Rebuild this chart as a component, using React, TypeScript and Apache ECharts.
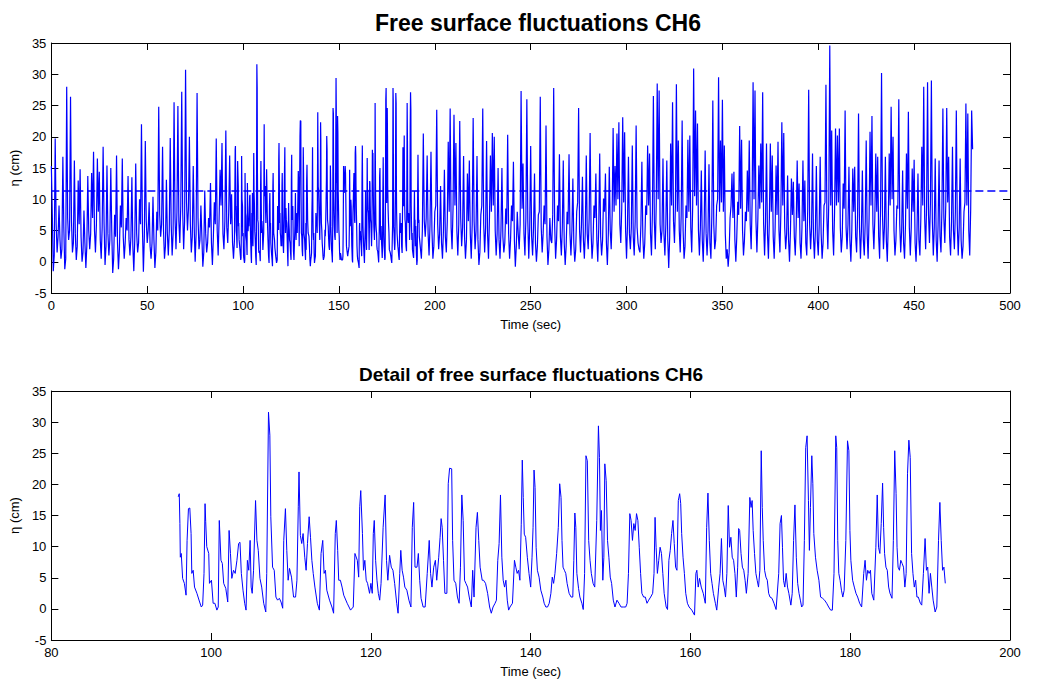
import React, { useEffect, useRef } from "react";
import * as echarts from "echarts";

// ---------- data ----------
// Full record, sampled every 0.5 s from 0 s to 95.5 s, eta in cm
const topStartA = 0;
const topStepSec = 0.5;
const topEtaA = [
  15.3, 7.5, -1.5, 1.0, 19.7, 6.0, 1.5, 4.0, 9.0, 3.5,
  0.5, 2.0, 16.8, 5.5, -1.2, 0.5, 28.0, 7.0, 3.5, 5.0,
  26.4, 6.5, 1.5, 3.0, 16.2, 4.5, 0.3, 2.5, 13.0, 6.0,
  14.8, 4.0, 0.0, 1.5, 8.2, 3.0, -1.0, 2.5, 13.7, 5.0,
  2.0, 4.5, 14.2, 7.0, 17.6, 5.0, 1.5, 6.0, 16.5, 8.0,
  14.4, 3.5, 0.5, 5.5, 18.4, 6.0, -0.5, 2.5, 15.4, 4.5,
  1.0, 3.5, 15.0, 5.0, -1.8, 0.5, 7.5, 4.0, 17.0, 3.0,
  -1.2, 2.0, 9.0, 5.5, 16.5, 4.0, 0.5, 3.0, 7.0, 5.0,
  13.7, 3.5, 1.0, 4.0, 13.5, 2.5, -1.5, 3.5, 15.7, 4.5,
  1.5, 3.0, 10.0, 6.0, 22.0, 5.5, -1.6, 4.0, 19.3, 6.5,
  3.0, 5.0, 9.5, 2.5, 0.5, 3.0, 10.4, 3.5, -1.0, 1.5,
  8.0, 5.0, 24.8, 7.5, 4.0, 6.0, 18.4, 5.0, 0.5, 2.5,
  13.1, 4.5, 1.0, 5.0, 19.8, 6.0, 1.0, 4.5, 25.5, 7.0,
  2.0, 8.0, 24.9, 6.5, 3.0, 9.0, 27.2, 8.0, 2.0, 6.5,
  30.7, 9.5, 5.0, 8.5, 20.0, 6.0, 1.5, 4.0, 15.3, 5.5,
  0.0, 4.5, 27.0, 7.0, 2.0, 3.5, 9.0, 4.0, -0.8, 1.5,
  11.4, 4.5, 1.5, 3.0, 7.0, 5.5, 12.6, 3.0, -0.5, 4.0,
  9.5, 6.0, 19.7, 5.0, 1.0, 7.0, 14.7, 9.0, 19.0, 4.5,
  2.0, 6.5, 21.0, 5.5, 3.0, 8.0, 17.0, 6.0, 10.8, 3.0,
  0.5, 3.5,
];

// Full record, sampled every 0.5 s from 193 s to 480.5 s
const topStartB = 193;
const topEtaB = [
  0.5, 5.0, 20.5, 6.5, 4.0, 7.0, 17.0, 4.5, 1.0, 6.0, 17.6, 5.0, 0.5, 2.5,
  8.0, 9.0, 24.3, 6.0, 2.0, 4.5, 12.1, 3.0, 0.5, 5.0, 14.7, 4.0, 1.5, 6.5, 19.2, 8.0, 24.5, 5.5, 2.0, 8.5,
  23.5, 9.0, 19.0, 5.0, 1.0, 6.0, 22.5, 7.0, 2.5, 5.5, 16.9, 4.0, 0.5, 3.5, 14.1, 6.5, 16.2, 4.5, 0.5, 6.0,
  23.0, 6.5, 2.0, 5.0, 16.9, 3.5, -0.5, 1.5, 7.5, 9.0, 24.5, 6.0, 1.5, 5.5, 19.3, 4.5, 0.5, 7.0, 17.0, 8.0,
  20.6, 9.0, 20.0, 5.0, 1.0, 4.5, 15.0, 3.5, 0.5, 5.0, 15.0, 4.0, 1.5, 3.0, 8.5, 6.0, 20.3, 4.5, 0.5, 3.5,
  9.0, 6.5, 16.0, 3.5, -0.8, 2.5, 8.0, 4.5, 2.0, 6.0, 27.3, 8.5, 15.7, 4.5, 1.0, 7.0, 26.0, 6.5, 0.5, 5.5,
  18.5, 4.0, 1.0, 5.5, 14.1, 3.0, 0.0, 2.5, 7.5, 8.0, 26.4, 5.5, 1.5, 4.5, 9.0, 6.0, 21.8, 4.0, -0.5, 2.0,
  7.0, 3.5, 3.0, 7.5, 27.8, 6.0, 0.5, 3.5, 9.0, 6.5, 17.2, 4.0, 1.0, 5.5, 16.2, 3.0, -0.5, 2.5, 8.0, 6.0,
  17.2, 4.5, 1.0, 5.0, 13.3, 3.0, 0.0, 2.0, 8.0, 9.5, 24.6, 5.0, 1.5, 6.0, 13.6, 3.5, 0.5, 5.0, 17.0, 4.5,
  2.0, 7.0, 20.6, 5.0, 0.5, 3.0, 9.0, 7.0, 14.1, 3.5, 0.0, 5.5, 17.3, 4.0, 1.0, 3.5, 10.1, 8.0, 14.1, 3.0,
  -0.5, 4.5, 15.2, 5.0, 2.0, 7.5, 21.4, 8.0, 15.3, 9.0, 20.5, 10.0, 22.3, 6.0, 3.0, 8.5, 23.1, 9.5, 20.7, 5.0,
  0.5, 6.0, 16.8, 4.5, 2.0, 5.5, 18.6, 4.0, 1.0, 6.5, 21.8, 5.5, 3.0, 2.0, 1.5, 6.0, 16.0, 4.0, 0.5, 3.0,
  9.0, 7.5, 18.6, 9.0, 17.3, 4.5, 1.0, 8.0, 26.5, 6.5, 2.0, 9.5, 28.5, 10.0, 27.4, 6.0, 3.0, 5.0, 16.5, 4.5,
  1.0, 6.0, 16.2, 3.5, -1.0, 4.0, 18.9, 9.0, 25.5, 6.5, 3.0, 9.0, 28.4, 8.0, 19.4, 5.0, 1.5, 7.5, 22.6, 5.0,
  0.5, 2.5, 9.0, 7.0, 19.5, 8.0, 20.2, 5.5, 1.5, 9.0, 30.9, 10.5, 24.2, 9.0, 22.1, 5.0, 1.0, 5.5, 14.6, 3.5,
  0.0, 6.0, 17.8, 4.5, 1.0, 5.0, 15.6, 3.0, 0.5, 7.5, 25.8, 6.0, 2.0, 3.5, 9.0, 10.0, 29.5, 8.0, 19.4, 9.5,
  25.9, 8.0, 18.6, 4.5, 0.5, 2.0, -0.8, 1.5, 7.0, 9.0, 14.1, 7.0, 14.4, 3.5, 0.0, 4.0, 9.6, 7.5, 21.7, 8.5,
  19.5, 5.0, 1.0, 3.5, 8.0, 6.5, 14.6, 8.0, 19.4, 6.0, 2.0, 9.5, 28.7, 10.0, 27.4, 6.5, 1.5, 7.0, 15.4, 8.5,
  18.9, 9.5, 27.1, 6.0, 1.0, 6.5, 18.9, 4.5, 0.5, 7.0, 18.9, 8.0, 17.0, 4.0, 0.5, 5.5, 15.4, 7.5, 19.2, 5.0,
  1.5, 8.0, 22.3, 9.0, 20.6, 5.5, 2.0, 4.5, 13.8, 3.5, 0.0, 5.0, 13.3, 7.5, 12.8, 4.0, 1.0, 6.0, 16.2, 7.0,
  12.5, 3.0, 0.5, 5.5, 16.2, 6.5, 13.0, 3.0, 1.0, 8.5, 27.5, 6.0, 2.0, 5.5, 17.3, 4.0, 0.5, 5.0, 15.3, 3.5,
  1.0, 6.0, 16.8, 4.5, 0.5, 3.0, 9.0, 9.5, 28.3, 7.0, 2.0, 10.0, 34.6, 9.0, 21.0, 5.0, 1.0, 8.0, 21.3, 9.0,
  20.2, 9.5, 21.3, 5.5, 1.5, 4.0, 12.5, 8.5, 24.2, 5.5, 2.0, 6.0, 15.2, 3.5, 0.0, 5.0, 14.9, 8.0, 15.2, 4.0,
  1.5, 7.5, 23.7, 5.5, 0.5, 5.0, 14.6, 3.5, 1.0, 6.5, 19.4, 4.5, 0.5, 7.0, 20.8, 9.0, 23.3, 6.0, 2.0, 7.0,
  17.3, 8.0, 16.8, 4.0, 0.5, 9.0, 30.2, 7.5, 2.0, 5.5, 16.8, 3.5, 0.0, 6.0, 17.3, 9.0, 24.8, 10.0, 20.0, 5.0,
  1.0, 3.5, 9.0, 8.5, 26.0, 6.0, 1.5, 5.0, 14.6, 3.0, 0.5, 6.0, 17.3, 8.5, 24.0, 5.5, 1.0, 5.5, 14.9, 8.0,
  16.3, 3.0, 0.0, 5.0, 14.1, 3.5, 1.0, 7.0, 18.4, 9.0, 28.0, 7.0, 2.0, 9.0, 28.7, 7.5, 3.0, 9.5, 29.0, 6.5,
  1.0, 5.5, 16.5, 3.5, 0.0, 6.0, 16.2, 4.0, 1.5, 8.5, 24.5, 7.0, 3.0, 9.0, 24.6, 9.5, 16.8, 4.0, 1.0, 6.5,
  18.4, 5.0, 2.0, 8.0, 24.2, 6.0, 1.0, 5.5, 16.5, 3.5, 0.5, 2.5, 8.0, 9.5, 25.3, 9.0, 23.7, 5.0, 1.0, 8.5,
  24.2, 18.0,
];

// Detail window (time sec, eta cm)
const detail096: [number, number][] = [
  [95.88, 18.0], [96.01, 18.5], [96.09, 13.7], [96.14, 8.3], [96.26, 8.9], [96.43, 4.9], [96.65, 4.1], [96.86, 2.2],
  [96.99, 11.0], [97.16, 16.1], [97.33, 16.2], [97.49, 12.1], [97.58, 5.7], [97.75, 6.2], [97.92, 3.5], [98.22, 2.5], [98.56, 1.1], [98.77, 0.3], [98.94, 0.6],
  [99.11, 5.7], [99.24, 16.9], [99.32, 14.0], [99.45, 10.0], [99.7, 8.9], [99.79, 4.1], [100.04, 4.6], [100.25, 0.9], [100.47, 0.9], [100.72, -0.2], [100.89, 0.3],
  [101.02, 14.2], [101.23, 7.8], [101.4, 7.3], [101.57, 4.1], [101.83, 3.3], [102.08, 1.1],
  [102.25, 12.6], [102.42, 8.9], [102.59, 4.9], [102.8, 6.2], [103.01, 5.7], [103.23, 7.8], [103.44, 10.5], [103.61, 10.7], [103.78, 5.7], [103.99, 3.0], [104.2, 0.9], [104.37, -0.2],
  [104.54, 7.8], [104.71, 6.2], [104.88, 11.0], [105.01, 3.5], [105.14, 2.5], [105.31, 6.2],
  [105.56, 17.4], [105.73, 11.0], [105.9, 9.4], [106.11, 4.9], [106.33, 3.5], [106.58, 0.9], [106.84, -0.5],
  [106.96, 5.7], [107.18, 31.6], [107.35, 27.9], [107.47, 14.8], [107.69, 6.7], [107.9, 6.2], [108.11, 1.9], [108.32, 1.4], [108.54, 1.7], [108.75, 1.1], [108.96, 0.1],
  [109.09, 11.0], [109.3, 16.1], [109.47, 9.4], [109.64, 4.6], [109.81, 6.5], [110.06, 5.1], [110.32, 1.9], [110.57, 1.9], [110.74, 4.6], [110.91, 16.4], [111.0, 22.0],
  [111.17, 11.8], [111.34, 10.5], [111.51, 12.1], [111.72, 8.3], [111.89, 6.2], [112.06, 10.5], [112.27, 14.8], [112.44, 11.5], [112.61, 7.8], [112.78, 5.7], [112.99, 3.5], [113.29, 0.9], [113.55, -0.2],
  [113.76, 8.9], [113.97, 11.0], [114.14, 5.7], [114.31, 6.2], [114.48, 3.0], [114.82, 1.4], [115.12, 0.3], [115.33, -0.7],
  [115.54, 12.1], [115.67, 14.2], [115.84, 9.4], [115.97, 4.6], [116.18, 4.6], [116.39, 3.5], [116.6, 2.2],
];

const detail117: [number, number][] = [
  [117.03, 0.9], [117.45, -0.2], [117.79, 0.3],
  [118.0, 8.9], [118.3, 7.8], [118.47, 5.1], [118.6, 16.4], [118.73, 19.0], [118.94, 12.1], [119.07, 6.2], [119.24, 7.8], [119.41, 4.6], [119.58, 4.1], [119.83, 2.5], [120.0, 4.1], [120.17, 2.5],
  [120.3, 12.1], [120.42, 14.2], [120.59, 7.8], [120.76, 4.6], [120.93, 2.5], [121.1, 1.4], [121.27, 4.1], [121.53, 13.1], [121.78, 18.3], [121.95, 7.8], [122.12, 4.6], [122.34, 8.6], [122.55, 6.7], [122.76, 6.2], [122.97, 4.1], [123.23, 0.9], [123.4, -0.7],
  [123.61, 5.7], [123.74, 9.4], [123.91, 6.2], [124.08, 5.1], [124.25, 3.5], [124.5, 3.0], [124.76, 1.4], [125.01, 0.3],
  [125.18, 13.1], [125.35, 17.1], [125.52, 6.7], [125.77, 6.7], [125.94, 8.9], [126.11, 4.6], [126.28, 1.7], [126.54, 0.3], [126.79, 0.3],
  [127.05, 5.7], [127.3, 11.0], [127.47, 5.7], [127.64, 3.5], [127.86, 6.7], [128.07, 7.8], [128.24, 4.6], [128.49, 8.3], [128.66, 11.5], [128.79, 14.5], [128.92, 13.1], [129.09, 7.8], [129.26, 2.5], [129.51, 2.5],
  [129.68, 20.1], [129.85, 22.6], [130.11, 22.5], [130.23, 11.0], [130.4, 4.6], [130.62, 4.1], [130.83, 1.9], [131.04, 0.9],
  [131.21, 6.7], [131.38, 18.3], [131.55, 14.2], [131.72, 4.6], [131.89, 4.1], [132.1, 3.5], [132.31, 1.9], [132.57, 0.3], [132.74, 6.2], [132.91, 1.9],
  [133.16, 13.1], [133.33, 15.5], [133.5, 11.0], [133.67, 6.7], [133.93, 4.6], [134.1, 4.6], [134.35, 4.1], [134.61, 2.5], [134.86, 0.3], [135.07, -0.7], [135.29, 0.3], [135.54, 0.9], [135.71, 1.4],
  [135.88, 7.8], [136.05, 10.5], [136.22, 18.3], [136.39, 8.3], [136.56, 4.6], [136.73, 3.5], [136.9, 4.6], [137.07, 1.4], [137.24, -0.2], [137.41, 0.3],
];

const detail138: [number, number][] = [
  [137.72, 0.9], [137.97, 7.8], [138.14, 6.7], [138.31, 5.7], [138.48, 6.2], [138.65, 4.6], [138.82, 13.6], [138.95, 23.9], [139.07, 17.9], [139.2, 12.0], [139.37, 11.5], [139.58, 8.3], [139.79, 5.7], [140.0, 3.5],
  [140.17, 8.3], [140.3, 13.1], [140.42, 22.3], [140.55, 19.5], [140.68, 9.9], [140.84, 6.2], [141.05, 5.1], [141.27, 3.0], [141.52, 1.9], [141.69, 0.9], [141.9, 0.3], [142.11, 0.3], [142.32, 0.9],
  [142.53, 2.5], [142.7, 5.1], [142.87, 4.1], [143.04, 5.7], [143.25, 8.9], [143.46, 13.1], [143.63, 20.1], [143.8, 17.9], [143.92, 11.0], [144.05, 6.7], [144.22, 6.2], [144.39, 5.7], [144.56, 4.1], [144.81, 2.5], [145.06, 1.9], [145.27, 1.9],
  [145.4, 7.8], [145.53, 15.4], [145.65, 13.1], [145.78, 5.7], [145.99, 3.3], [146.16, 1.9], [146.41, 0.9], [146.58, -0.1],
  [146.75, 5.7], [146.92, 24.6], [147.09, 23.8], [147.26, 11.0], [147.43, 7.8], [147.59, 5.7], [147.81, 4.1], [148.02, 3.5],
  [148.27, 14.2], [148.48, 29.4], [148.61, 24.3], [148.73, 12.6], [148.86, 15.8], [149.03, 4.6], [149.16, 8.3], [149.28, 23.3], [149.45, 20.6], [149.62, 11.0], [149.79, 8.3], [149.96, 5.1], [150.13, 4.1], [150.34, 1.4], [150.55, 0.3], [150.8, 1.4], [151.05, 0.9], [151.31, 0.3], [151.6, 0.3], [151.9, 0.3], [152.07, 0.9],
  [152.24, 5.7], [152.41, 15.3], [152.57, 14.2], [152.74, 11.0], [152.91, 13.7], [153.08, 12.6], [153.25, 15.3], [153.42, 14.2], [153.59, 9.9], [153.76, 5.7], [153.92, 2.5], [154.14, 1.9], [154.35, 1.9], [154.56, 0.9], [154.77, 1.4], [155.02, 1.9], [155.27, 2.5],
  [155.44, 5.7], [155.57, 14.7], [155.7, 9.9], [155.86, 5.7], [156.03, 7.8], [156.2, 9.9], [156.37, 8.9], [156.54, 5.7], [156.71, 2.5], [156.96, 0.3], [157.13, -0.1],
  [157.3, 7.8], [157.47, 9.4], [157.64, 12.1], [157.81, 14.2], [157.97, 10.5], [158.14, 6.7], [158.31, 6.2], [158.48, 17.4], [158.65, 18.5], [158.78, 16.9], [158.9, 12.1], [159.07, 8.3], [159.24, 5.7], [159.41, 2.5], [159.62, 0.9], [159.83, 0.3], [160.17, -0.2], [160.51, -1.0],
];

const detail161: [number, number][] = [
  [160.68, 5.7], [160.8, 6.2], [160.97, 3.5], [161.14, 4.9], [161.35, 3.5], [161.6, 2.5], [161.86, 0.9],
  [162.03, 13.1], [162.19, 18.6], [162.36, 11.0], [162.53, 5.7], [162.7, 4.1], [162.87, 2.5], [163.12, 0.9], [163.29, -0.2],
  [163.54, 3.5], [163.71, 5.7], [163.88, 11.3], [164.05, 4.6], [164.22, 3.5], [164.39, 1.9], [164.56, 5.7], [164.73, 16.6], [164.89, 9.9], [165.06, 11.5], [165.23, 8.3], [165.4, 7.8], [165.57, 5.7], [165.74, 1.9], [165.91, 6.7], [166.03, 12.9], [166.16, 12.6], [166.33, 8.9], [166.5, 6.7], [166.67, 6.2], [166.84, 4.6], [167.0, 2.5],
  [167.22, 5.7], [167.43, 17.9], [167.59, 16.3], [167.72, 17.4], [167.85, 12.6], [168.02, 8.9], [168.19, 5.7], [168.35, 4.6], [168.52, 3.5], [168.69, 6.2], [168.86, 25.4], [168.99, 16.3], [169.11, 11.0], [169.28, 6.2], [169.45, 5.1], [169.62, 4.6], [169.79, 2.5], [169.96, 1.9], [170.21, 1.7], [170.46, 0.9], [170.72, -0.1],
  [171.05, 5.7], [171.22, 13.7], [171.39, 15.0], [171.52, 9.9], [171.65, 4.6], [171.81, 3.5], [171.98, 5.7], [172.15, 3.5], [172.32, 2.5], [172.57, 0.6], [172.74, 2.5],
  [172.91, 11.0], [173.08, 16.7], [173.25, 8.3], [173.42, 4.1], [173.59, 2.5], [173.76, 1.4], [173.92, 0.3], [174.09, 0.6],
  [174.26, 11.0], [174.43, 25.9], [174.6, 27.8], [174.77, 17.4], [174.89, 9.4], [175.02, 16.3], [175.19, 24.6], [175.32, 20.1], [175.44, 12.1], [175.65, 8.3], [175.86, 6.2], [176.08, 4.6], [176.29, 1.9], [176.54, 1.7], [176.79, 1.4], [177.05, 0.9], [177.3, 0.3], [177.55, -0.2], [177.76, -0.2],
  [177.97, 5.7], [178.19, 27.8], [178.31, 25.9], [178.44, 11.0], [178.57, 5.7], [178.73, 4.6], [178.9, 3.0], [179.07, 1.9], [179.24, 3.0],
  [179.45, 11.0], [179.66, 27.0], [179.83, 25.4], [179.96, 12.6], [180.08, 7.8], [180.3, 4.6], [180.51, 3.5], [180.72, 2.5], [180.93, 1.9], [181.18, 0.9], [181.43, 0.3],
  [181.69, 5.7], [181.86, 7.8], [182.03, 4.6], [182.19, 6.2], [182.36, 5.7], [182.53, 6.2], [182.7, 2.5], [182.95, 1.4],
  [183.21, 9.9], [183.38, 18.3], [183.54, 9.9], [183.71, 8.9], [183.88, 13.7], [184.05, 20.2], [184.18, 13.1], [184.3, 8.9], [184.47, 6.7], [184.64, 6.2], [184.81, 3.5], [184.98, 2.5], [185.23, 1.7],
  [185.4, 11.0], [185.57, 25.4], [185.74, 18.5], [185.86, 9.9], [185.99, 6.7], [186.16, 6.2], [186.33, 7.8], [186.5, 7.3], [186.67, 6.7], [186.84, 3.5], [187.0, 5.7],
  [187.17, 21.7], [187.34, 27.1], [187.51, 24.3], [187.68, 8.9], [187.85, 5.7], [188.02, 3.5], [188.19, 4.6], [188.35, 1.9], [188.52, 1.9], [188.78, 0.9], [188.95, 0.6],
  [189.16, 5.7], [189.37, 11.3], [189.54, 6.2], [189.7, 6.7], [189.87, 2.5], [190.04, 5.7], [190.21, 3.5], [190.38, 1.4], [190.63, -0.5], [190.84, 0.3],
  [191.05, 11.0], [191.22, 17.1], [191.39, 11.0], [191.56, 6.2], [191.73, 6.7], [191.9, 4.1],
];

const meanEta = 11.3;

const topTitle = "Free surface fluctuations CH6";
const bottomTitle = "Detail of free surface fluctuations CH6";
const xName = "Time (sec)";
const yName = "η (cm)";

const topX = { min: 0, max: 500, interval: 50 };
const bottomX = { min: 80, max: 200, interval: 20 };
const yRange = { min: -5, max: 35, interval: 5 };

// ---------- chart ----------
const FONT = '"Liberation Sans", Arial, Helvetica, sans-serif';
const BLUE = "#0000ff";

function detailData(): [number, number][] {
  return [...detail096, ...detail117, ...detail138, ...detail161];
}

function buildTopData(): [number, number][] {
  const a: [number, number][] = topEtaA.map((v, i) => [topStartA + i * topStepSec, v]);
  const b: [number, number][] = topEtaB.map((v, i) => [topStartB + i * topStepSec, v]);
  return [...a, ...detailData(), ...b];
}

function xAxisPair(grid: number, r: { min: number; max: number; interval: number }) {
  const common = {
    gridIndex: grid,
    type: "value" as const,
    min: r.min,
    max: r.max,
    interval: r.interval,
    splitLine: { show: false },
    axisLine: { show: true, onZero: false, lineStyle: { color: "#000", width: 1 } },
    axisTick: { show: true, inside: true, length: 7, lineStyle: { color: "#000", width: 1 } },
  };
  return [
    {
      ...common,
      position: "bottom",
      axisLabel: { color: "#000", fontSize: 13, fontFamily: FONT, margin: 6 },
      name: xName,
      nameLocation: "middle",
      nameGap: 25,
      nameTextStyle: { color: "#000", fontSize: 13, fontFamily: FONT },
    },
    { ...common, position: "top", axisLabel: { show: false } },
  ];
}

function yAxisPair(grid: number) {
  const common = {
    gridIndex: grid,
    type: "value" as const,
    min: yRange.min,
    max: yRange.max,
    interval: yRange.interval,
    splitLine: { show: false },
    axisLine: { show: true, onZero: false, lineStyle: { color: "#000", width: 1 } },
    axisTick: { show: true, inside: true, length: 7, lineStyle: { color: "#000", width: 1 } },
  };
  return [
    {
      ...common,
      position: "left",
      axisLabel: { color: "#000", fontSize: 13, fontFamily: FONT, margin: 5 },
      name: yName,
      nameLocation: "middle",
      nameGap: 26,
      nameRotate: 90,
      nameTextStyle: { color: "#000", fontSize: 13, fontFamily: FONT },
    },
    { ...common, position: "right", axisLabel: { show: false } },
  ];
}

export default function App() {
  const ref = useRef<HTMLDivElement>(null);

  useEffect(() => {
    if (!ref.current) return;
    const chart = echarts.init(ref.current, undefined, { renderer: "svg" });
    const option: any = {
      animation: false,
      backgroundColor: "#fff",
      grid: [
        { left: 50, top: 43, width: 960, height: 250, containLabel: false },
        { left: 50, top: 391, width: 960, height: 249, containLabel: false },
      ],
      xAxis: [...xAxisPair(0, topX), ...xAxisPair(1, bottomX)],
      yAxis: [...yAxisPair(0), ...yAxisPair(1)],
      graphic: [
        {
          type: "text",
          x: 538,
          y: 23,
          style: {
            text: topTitle,
            font: `bold 23px ${FONT}`,
            fill: "#000",
            textAlign: "center",
            align: "center",
            textVerticalAlign: "middle",
            verticalAlign: "middle",
          },
        },
        {
          type: "text",
          x: 531,
          y: 374,
          style: {
            text: bottomTitle,
            font: `bold 19px ${FONT}`,
            fill: "#000",
            textAlign: "center",
            align: "center",
            textVerticalAlign: "middle",
            verticalAlign: "middle",
          },
        },
      ],
      series: [
        {
          type: "line",
          xAxisIndex: 0,
          yAxisIndex: 0,
          data: buildTopData(),
          symbol: "none",
          showSymbol: false,
          lineStyle: { color: BLUE, width: 1.2 },
          itemStyle: { color: BLUE },
          markLine: {
            silent: true,
            symbol: ["none", "none"],
            label: { show: false },
            lineStyle: { color: BLUE, width: 1.6, type: [8, 4] },
            data: [{ yAxis: meanEta }],
          },
        },
        {
          type: "line",
          xAxisIndex: 2,
          yAxisIndex: 2,
          data: detailData(),
          symbol: "none",
          showSymbol: false,
          lineStyle: { color: BLUE, width: 1 },
          itemStyle: { color: BLUE },
        },
      ],
    };
    chart.setOption(option);
    return () => chart.dispose();
  }, []);

  return (
    <div
      ref={ref}
      style={{ position: "fixed", left: 0, top: 0, width: 1038, height: 679, background: "#fff" }}
    />
  );
}
